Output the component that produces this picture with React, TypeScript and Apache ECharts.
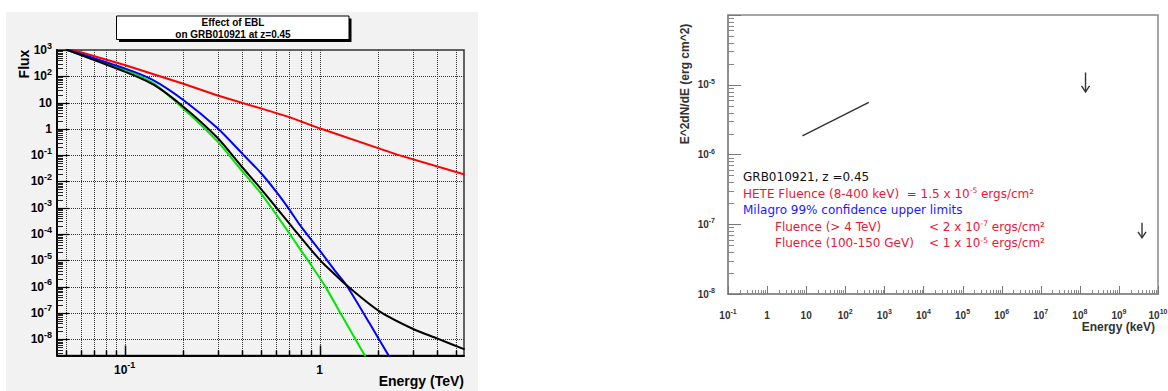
import React, { useEffect, useRef } from 'react';
import * as echarts from 'echarts';

// ---------------- Left panel: "Effect of EBL" (Energy in TeV vs Flux) ----------------
const redEnergy = [0.05, 0.1, 0.2, 0.3, 0.5, 0.7, 1.0, 2.5, 5.54];
const redFlux = [1200, 270, 52, 18.5, 6.0, 2.8, 1.05, 0.105, 0.0184];

const greenEnergy = [0.05, 0.1, 0.14, 0.2, 0.3, 0.4, 0.5, 0.6, 0.7, 0.8, 0.89, 1.07, 1.3, 1.75];
const greenFlux = [1050, 174, 55, 6.0, 0.327, 0.0251, 0.00355, 5.4e-4, 1.05e-4, 2.45e-5, 7.9e-6, 1.0e-6, 7.9e-8, 1.7e-9];

const blueEnergy = [0.05, 0.1, 0.14, 0.2, 0.3, 0.4, 0.5, 0.6, 0.7, 0.8, 1.0, 1.2, 1.37, 1.8, 2.3];
const blueFlux = [1070, 200, 72, 12.6, 1.05, 0.117, 0.0209, 0.004, 8.5e-4, 2.0e-4, 2.4e-5, 4.0e-6, 1.15e-6, 4.1e-8, 1.9e-9];

const blackEnergy = [0.05, 0.1, 0.14, 0.2, 0.3, 0.4, 0.5, 0.6, 0.7, 0.8, 0.9, 1.0, 1.06, 1.37, 2.0, 3.0, 4.0, 5.54];
const blackFlux = [1050, 151, 49, 7.0, 0.45, 0.0355, 0.00525, 0.001, 2.5e-4, 7.4e-5, 2.6e-5, 1.07e-5, 6.8e-6, 1.15e-6, 1.23e-7, 2.5e-8, 1.07e-8, 4.1e-9];

const leftXMajorTicks = [0.1, 1];
const leftXLabels = ['10{e|-1}', '1'];
const leftXMinorTicks = [0.05, 0.06, 0.07, 0.08, 0.09, 0.2, 0.3, 0.4, 0.5, 0.6, 0.7, 0.8, 0.9, 2, 3, 4, 5];
const leftYMajorTicks = [1e3, 1e2, 10, 1, 1e-1, 1e-2, 1e-3, 1e-4, 1e-5, 1e-6, 1e-7, 1e-8];
const leftYLabels = ['10{e|3}', '10{e|2}', '10', '1', '10{e|-1}', '10{e|-2}', '10{e|-3}', '10{e|-4}', '10{e|-5}', '10{e|-6}', '10{e|-7}', '10{e|-8}'];
const leftYDecades = [1e-9, 1e-8, 1e-7, 1e-6, 1e-5, 1e-4, 1e-3, 1e-2, 1e-1, 1, 10, 100];

// ---------------- Right panel: GRB010921 (Energy in keV vs E^2dN/dE) ----------------
const heteEnergy = [8, 400];
const heteFlux = [1.85e-6, 5.6e-6];
const limitEnergy = [1.4e8, 3.9e9];
const limitTop = [1.5e-5, 1.05e-7];
const limitTip = [7.9e-6, 6.4e-8];

const rightXMajorTicks = [1e-1, 1, 10, 1e2, 1e3, 1e4, 1e5, 1e6, 1e7, 1e8, 1e9, 1e10];
const rightXLabels = ['10{e|-1}', '1', '10', '10{e|2}', '10{e|3}', '10{e|4}', '10{e|5}', '10{e|6}', '10{e|7}', '10{e|8}', '10{e|9}', '10{e|10}'];
const rightYMajorTicks = [1e-8, 1e-7, 1e-6, 1e-5, 1e-4];
const rightYLabelTicks = [1e-8, 1e-7, 1e-6, 1e-5];
const rightYLabels = ['10{e|-8}', '10{e|-7}', '10{e|-6}', '10{e|-5}'];

const mantissas = [2, 3, 4, 5, 6, 7, 8, 9];
const minorsOf = (decades: number[], lo: number, hi: number) =>
  decades.flatMap((d) => mantissas.map((m) => m * d)).filter((v) => v > lo && v < hi);

const LEFT_X = [0.045, 5.5];
const LEFT_Y = [2.4e-9, 1000];
const RIGHT_X = [0.1, 1e10];
const RIGHT_Y = [1e-8, 1e-4];

const FONT = 'Liberation Sans';
const RED_TXT = '#e8173a';
const BLUE_TXT = '#1a1aff';

const zip = (a: number[], b: number[]) => a.map((v, i) => [v, b[i]]);

const labelFor = (ticks: number[], labels: string[]) => (v: number) => {
  for (let i = 0; i < ticks.length; i++) if (Math.abs(v / ticks[i] - 1) < 1e-6) return labels[i];
  return '';
};

function tickSeries(o: {
  gi: number; values: number[]; dir: 'x' | 'y'; len: number; color: string; width: number;
  dash?: number[]; ref: number; z: number;
}) {
  return {
    type: 'custom',
    xAxisIndex: o.gi,
    yAxisIndex: o.gi,
    silent: true,
    z: o.z,
    data: o.values.map((v) => (o.dir === 'x' ? [v, o.ref] : [o.ref, v])),
    renderItem: (params: any, api: any) => {
      const cs = params.coordSys;
      if (o.dir === 'x') {
        const x = Math.round(api.coord([api.value(0), o.ref])[0]) + 0.5;
        const y2 = cs.y + cs.height;
        const y1 = o.len > 0 ? y2 - o.len : cs.y;
        return { type: 'line', shape: { x1: x, y1, x2: x, y2 }, style: { stroke: o.color, lineWidth: o.width, lineDash: o.dash } };
      }
      const y = Math.round(api.coord([o.ref, api.value(1)])[1]) + 0.5;
      const x1 = cs.x;
      const x2 = o.len > 0 ? x1 + o.len : cs.x + cs.width;
      return { type: 'line', shape: { x1, y1: y, x2, y2: y }, style: { stroke: o.color, lineWidth: o.width, lineDash: o.dash } };
    },
  };
}

function curve(e: number[], f: number[], color: string, smooth: number) {
  return {
    type: 'line', xAxisIndex: 0, yAxisIndex: 0, data: zip(e, f), showSymbol: false, symbol: 'none',
    smooth,
    lineStyle: { color, width: 2 }, z: 5, clip: true, silent: true,
  };
}

function buildOption() {
  const leftRich = { e: { fontSize: 9, fontWeight: 'bold', fontFamily: FONT, color: '#000', verticalAlign: 'top', padding: [0, 0, 9, 0] } };
  const rightRich = { e: { fontSize: 7, fontWeight: 'bold', fontFamily: FONT, color: '#333', verticalAlign: 'top', padding: [0, 0, 7, 0] } };
  const leftLabel = { fontSize: 12, fontWeight: 'bold', fontFamily: FONT, color: '#000', lineHeight: 18, rich: leftRich };
  const rightLabel = { fontSize: 10, fontWeight: 'bold', fontFamily: FONT, color: '#333', lineHeight: 14, rich: rightRich };

  const annot = (text: string, x: number, y: number, fill: string) => ({
    type: 'text', x, y, z: 20, silent: true,
    style: {
      text, fill, fontSize: 12, fontFamily: 'DejaVu Sans', verticalAlign: 'middle', align: 'left',
      rich: { s: { fontSize: 7.5, fontFamily: 'DejaVu Sans', fill, verticalAlign: 'top', padding: [0, 0, 6, 0] } },
    },
  });

  return {
    animation: false,
    backgroundColor: '#ffffff',
    tooltip: { show: false },
    grid: [
      { left: 57, top: 50, width: 407, height: 305.5, show: true, borderColor: '#333', borderWidth: 1.5, backgroundColor: 'transparent', containLabel: false, outerBoundsMode: 'none' },
      { left: 728, top: 15, width: 430, height: 279, show: true, borderColor: '#888', borderWidth: 1.5, backgroundColor: 'transparent', containLabel: false, outerBoundsMode: 'none' },
    ],
    xAxis: [
      {
        type: 'log', gridIndex: 0, min: LEFT_X[0], max: LEFT_X[1], logBase: 10,
        axisLine: { show: true, onZero: false, lineStyle: { color: '#000', width: 2 } },
        axisTick: { show: false }, splitLine: { show: false },
        axisLabel: { ...leftLabel, margin: 5, customValues: leftXMajorTicks, formatter: labelFor(leftXMajorTicks, leftXLabels) },
      },
      {
        type: 'log', gridIndex: 1, min: RIGHT_X[0], max: RIGHT_X[1], logBase: 10,
        axisLine: { show: true, onZero: false, lineStyle: { color: '#888', width: 1.5 } },
        axisTick: { show: false }, splitLine: { show: false },
        axisLabel: { ...rightLabel, margin: 14, customValues: rightXMajorTicks, formatter: labelFor(rightXMajorTicks, rightXLabels) },
      },
    ],
    yAxis: [
      {
        type: 'log', gridIndex: 0, min: LEFT_Y[0], max: LEFT_Y[1], logBase: 10,
        axisLine: { show: true, onZero: false, lineStyle: { color: '#000', width: 2 } },
        axisTick: { show: false }, splitLine: { show: false },
        axisLabel: { ...leftLabel, margin: 5, customValues: leftYMajorTicks, formatter: labelFor(leftYMajorTicks, leftYLabels) },
      },
      {
        type: 'log', gridIndex: 1, min: RIGHT_Y[0], max: RIGHT_Y[1], logBase: 10,
        axisLine: { show: true, onZero: false, lineStyle: { color: '#888', width: 1.5 } },
        axisTick: { show: false }, splitLine: { show: false },
        axisLabel: { ...rightLabel, margin: 13, customValues: rightYLabelTicks, formatter: labelFor(rightYLabelTicks, rightYLabels) },
      },
    ],
    graphic: [
      { type: 'rect', z: -1, silent: true, shape: { x: 6, y: 12, width: 472, height: 379 }, style: { fill: '#f2f2f2' } },
      { type: 'rect', z: 10, silent: true, shape: { x: 119, y: 18.5, width: 232.5, height: 23.5 }, style: { fill: '#000' } },
      { type: 'rect', z: 11, silent: true, shape: { x: 116.5, y: 16, width: 232.5, height: 23.5 }, style: { fill: '#fff', stroke: '#000', lineWidth: 1 } },
      { type: 'text', z: 12, x: 233, y: 22.3, silent: true, style: { text: 'Effect of EBL', fontSize: 10, fontWeight: 'bold', fontFamily: FONT, fill: '#000', align: 'center', verticalAlign: 'middle' } },
      { type: 'text', z: 12, x: 233, y: 34.2, silent: true, style: { text: 'on GRB010921 at z=0.45', fontSize: 10, fontWeight: 'bold', fontFamily: FONT, fill: '#000', align: 'center', verticalAlign: 'middle' } },
      { type: 'text', z: 12, x: 24, y: 64, rotation: Math.PI / 2, silent: true, style: { text: 'Flux', fontSize: 14, fontWeight: 'bold', fontFamily: FONT, fill: '#000', align: 'center', verticalAlign: 'middle' } },
      { type: 'text', z: 12, x: 464, y: 381, silent: true, style: { text: 'Energy (TeV)', fontSize: 14, fontWeight: 'bold', fontFamily: FONT, fill: '#000', align: 'right', verticalAlign: 'middle' } },
      { type: 'text', z: 12, x: 685, y: 84, rotation: Math.PI / 2, silent: true, style: { text: 'E^2dN/dE (erg cm^2)', fontSize: 12, fontWeight: 'bold', fontFamily: FONT, fill: '#333', align: 'center', verticalAlign: 'middle' } },
      { type: 'text', z: 12, x: 1155, y: 327, silent: true, style: { text: 'Energy (keV)', fontSize: 12, fontWeight: 'bold', fontFamily: FONT, fill: '#333', align: 'right', verticalAlign: 'middle' } },
      annot('GRB010921, z =0.45', 743, 177, '#111'),
      annot('HETE Fluence (8-400 keV)  = 1.5 x 10{s|-5} ergs/cm²', 743, 193.5, RED_TXT),
      annot('Milagro 99% confidence upper limits', 743, 210, BLUE_TXT),
      annot('Fluence (> 4 TeV)', 775, 226.5, RED_TXT),
      annot('< 2 x 10{s|-7} ergs/cm²', 929, 226.5, RED_TXT),
      annot('Fluence (100-150 GeV)', 775, 243, RED_TXT),
      annot('< 1 x 10{s|-5} ergs/cm²', 929, 243, RED_TXT),
    ],
    series: [
      // left panel grid lines (dotted)
      tickSeries({ gi: 0, values: [...leftXMinorTicks, ...leftXMajorTicks], dir: 'x', len: 0, color: '#333', width: 1, dash: [1, 1], ref: 1, z: 1 }),
      tickSeries({ gi: 0, values: leftYMajorTicks.slice(1), dir: 'y', len: 0, color: '#333', width: 1, dash: [1, 1], ref: 1, z: 1 }),
      // left panel tick marks
      tickSeries({ gi: 0, values: leftXMajorTicks, dir: 'x', len: 10, color: '#000', width: 1.5, ref: 1, z: 2 }),
      tickSeries({ gi: 0, values: leftXMinorTicks, dir: 'x', len: 5, color: '#000', width: 1.5, ref: 1, z: 2 }),
      tickSeries({ gi: 0, values: leftYMajorTicks, dir: 'y', len: 12, color: '#000', width: 1.2, ref: 1, z: 2 }),
      tickSeries({ gi: 0, values: minorsOf(leftYDecades, LEFT_Y[0], LEFT_Y[1]), dir: 'y', len: 6, color: '#222', width: 1, ref: 1, z: 2 }),
      // right panel tick marks
      tickSeries({ gi: 1, values: rightXMajorTicks, dir: 'x', len: 8, color: '#777', width: 1, ref: 1e-6, z: 2 }),
      tickSeries({ gi: 1, values: minorsOf(rightXMajorTicks, RIGHT_X[0], RIGHT_X[1]), dir: 'x', len: 4, color: '#888', width: 1, ref: 1e-6, z: 2 }),
      tickSeries({ gi: 1, values: rightYMajorTicks, dir: 'y', len: 13, color: '#777', width: 1, ref: 1, z: 2 }),
      tickSeries({ gi: 1, values: minorsOf(rightYMajorTicks, RIGHT_Y[0], RIGHT_Y[1]), dir: 'y', len: 6, color: '#888', width: 1, ref: 1, z: 2 }),
      // curves
      curve(redEnergy, redFlux, '#ff0000', 0),
      curve(greenEnergy, greenFlux, '#00e600', 0.25),
      curve(blueEnergy, blueFlux, '#0000ff', 0.25),
      curve(blackEnergy, blackFlux, '#000000', 0.25),
      // right panel HETE spectrum
      {
        type: 'line', xAxisIndex: 1, yAxisIndex: 1, data: zip(heteEnergy, heteFlux), showSymbol: false, symbol: 'none',
        lineStyle: { color: '#333', width: 1.5 }, z: 5, silent: true,
      },
      // right panel upper-limit arrows
      {
        type: 'custom', xAxisIndex: 1, yAxisIndex: 1, z: 5, silent: true,
        data: limitEnergy.map((e, i) => [e, limitTop[i], limitTip[i]]),
        encode: { x: 0, y: [1, 2] },
        renderItem: (_params: any, api: any) => {
          const top = api.coord([api.value(0), api.value(1)]);
          const tip = api.coord([api.value(0), api.value(2)]);
          return {
            type: 'group',
            children: [
              { type: 'line', shape: { x1: top[0], y1: top[1], x2: tip[0], y2: tip[1] }, style: { stroke: '#333', lineWidth: 1.4 } },
              { type: 'polyline', shape: { points: [[tip[0] - 4, tip[1] - 6], [tip[0], tip[1]], [tip[0] + 4, tip[1] - 6]] }, style: { stroke: '#333', lineWidth: 1.4, fill: 'none' } },
            ],
          };
        },
      },
    ],
  };
}

export default function App() {
  const ref = useRef<HTMLDivElement>(null);
  useEffect(() => {
    if (!ref.current) return;
    const prevMargin = document.body.style.margin;
    document.body.style.margin = '0';
    const chart = echarts.init(ref.current, null, { renderer: 'svg' });
    chart.setOption(buildOption() as any);
    return () => {
      chart.dispose();
      document.body.style.margin = prevMargin;
    };
  }, []);
  return <div ref={ref} style={{ width: 1168, height: 391, background: '#fff', overflow: 'hidden' }} />;
}
